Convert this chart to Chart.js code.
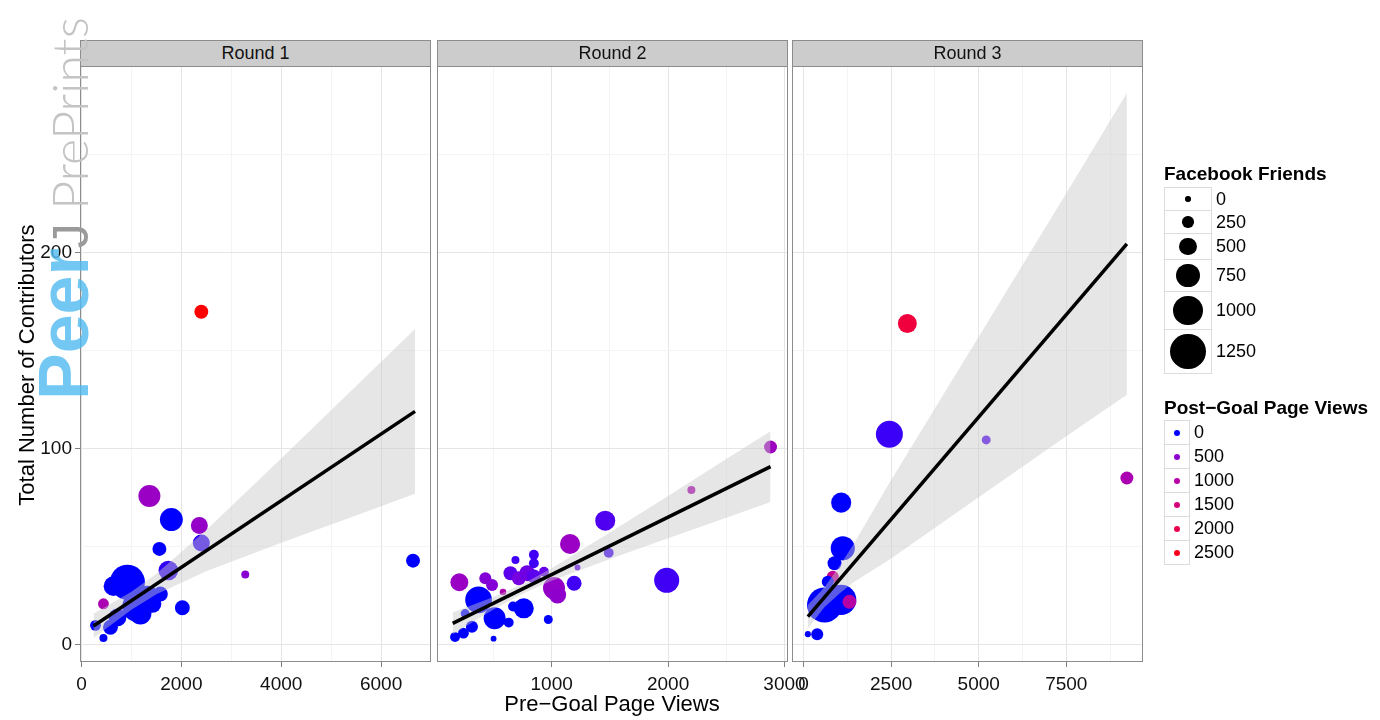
<!DOCTYPE html>
<html>
<head>
<meta charset="utf-8">
<title>Total Number of Contributors vs Pre-Goal Page Views</title>
<script src="https://cdn.jsdelivr.net/npm/chart.js@4.4.1/dist/chart.umd.min.js"></script>
<style>
  body { margin: 0; background: #fff; font-family: "Liberation Sans", Arial, sans-serif; }
  #wrap { position: relative; width: 1380px; height: 720px; overflow: hidden; }
  canvas { position: absolute; left: 0; top: 0; }
  .strip {
    position: absolute; top: 40px; height: 27px; width: 351px; box-sizing: border-box;
    background: #cccccc; border: 1px solid #8c8c8c; text-align: center;
    font-size: 18px; line-height: 25px; color: #111;
  }
  .title-x { position: absolute; left: 412px; width: 400px; top: 691px; text-align: center; font-size: 22px; line-height: 26px; }
  .title-y { position: absolute; left: -173px; width: 400px; top: 352px; height: 26px; text-align: center;
             font-size: 22px; line-height: 26px; transform: rotate(-90deg); }
  .leg-title { position: absolute; left: 1164px; font-weight: bold; font-size: 19px; line-height: 22px; white-space: nowrap; }
  .leg { position: absolute; left: 1164px; }
  .row { display: flex; align-items: center; margin-top: -1px; }
  .key { box-sizing: border-box; border: 1px solid #dcdcdc; display: flex; align-items: center; justify-content: center; }
  .dot { border-radius: 50%; }
  .lab { font-size: 18px; padding-left: 4px; }
  .wm { position: absolute; left: 30px; top: 400px; transform-origin: 0 0; transform: rotate(-90deg);
        white-space: nowrap; font-size: 70px; line-height: 68px; height: 68px; font-weight: bold; }
  .wm .peer { color: rgba(80, 185, 240, 0.8); }
  .wm .j { color: #9a9a9a; font-weight: normal; font-size: 50px; }
  .wm .pp { color: #c4c4c4; font-family: Lato, "Liberation Sans", sans-serif; font-weight: 300; font-size: 50px; }
</style>
</head>
<body>
<div id="wrap">
  <canvas id="p1" width="1380" height="720"></canvas>
  <canvas id="p2" width="1380" height="720"></canvas>
  <canvas id="p3" width="1380" height="720"></canvas>

  <div class="strip" style="left:80px">Round 1</div>
  <div class="strip" style="left:437px">Round 2</div>
  <div class="strip" style="left:792px">Round 3</div>

  <div class="title-x">Pre−Goal Page Views</div>
  <div class="title-y">Total Number of Contributors</div>

  <div class="leg-title" style="top:163px">Facebook Friends</div>
  <div class="leg" id="sizeLegend" style="top:188px"></div>
  <div class="leg-title" style="top:397px">Post−Goal Page Views</div>
  <div class="leg" id="colourLegend" style="top:421px"></div>

  <div class="wm"><span class="peer">Peer</span><span class="j">J</span><span class="pp"> PrePrints</span></div>
</div>
<script>
// Round 1
const r1Pre     = [2400, 1360, 1800, 2360, 2400, 1560, 1740, 3280, 920, 2020, 440, 1120, 1320, 1580, 640, 280, 580, 440, 720, 1180, 1420, 6640];
const r1Contrib = [170, 76, 64, 61, 52, 49, 38, 36, 32, 19, 21, 19.5, 24, 26, 30, 10, 9, 3.5, 14, 16, 21, 43];
const r1Friends = [360, 700, 740, 490, 490, 360, 600, 110, 1250, 400, 230, 1050, 800, 400, 600, 230, 400, 110, 530, 700, 530, 360];
const r1Post    = [2650, 650, 0, 600, 60, 0, 60, 500, 0, 0, 850, 0, 0, 0, 0, 0, 0, 0, 0, 0, 0, 0];
const r1FitX    = [240, 6680];
const r1FitY    = [9.7, 119.2];
const r1BandX   = [240, 1000, 1500, 2500, 4000, 5500, 6680];
const r1BandLo  = [3.5, 18.0, 25.9, 37.6, 52.1, 66.1, 77.2];
const r1BandHi  = [15.9, 27.2, 36.3, 58.6, 95.1, 132.1, 161.2];

// Round 2
const r2Pre     = [2880, 2200, 1460, 1490, 1158, 1988, 1222, 1193, 1020, 1050, 971, 207, 372, 510, 760, 501, 631, 170, 242, 315, 257, 430, 488, 582, 646, 689, 718, 790, 847, 847, 847, 934, 668];
const r2Contrib = [101, 79, 63.4, 47, 51.5, 33, 39.5, 31.5, 29, 25.5, 13, 32, 23, 13.6, 18.7, 3.2, 11.4, 4, 6, 9.3, 16, 34, 30.6, 27, 36.6, 43.4, 34, 36.6, 35, 46, 41.7, 37.4, 19.6];
const r2Friends = [320, 110, 620, 190, 620, 830, 20, 400, 700, 500, 150, 530, 900, 700, 620, 20, 190, 190, 230, 280, 150, 280, 280, 50, 360, 110, 360, 440, 360, 190, 190, 190, 190];
const r2Post    = [700, 850, 150, 100, 650, 100, 200, 100, 600, 550, 0, 650, 0, 0, 0, 0, 0, 0, 0, 0, 0, 450, 450, 900, 200, 100, 350, 300, 200, 100, 100, 250, 0];
const r2FitX    = [150, 2880];
const r2FitY    = [11.0, 91.0];
const r2BandX   = [150, 500, 750, 1000, 1500, 2000, 2500, 2880];
const r2BandLo  = [5.4, 18.1, 26.1, 32.7, 43.8, 54.4, 64.9, 72.9];
const r2BandHi  = [16.6, 24.5, 31.1, 39.1, 57.4, 76.0, 94.9, 109.1];

// Round 3
const r3Pre     = [2963, 2450, 5214, 9230, 1074, 1120, 884, 835, 692, 600, 1074, 1310, 362, 390, 123, 790];
const r3Contrib = [164, 107.5, 104.6, 85.2, 72.6, 49.3, 41.7, 34.8, 32.3, 20.4, 23, 22, 16, 5.5, 5.5, 27];
const r3Friends = [570, 910, 150, 320, 620, 790, 360, 280, 280, 1250, 1050, 360, 280, 280, 30, 360];
const r3Post    = [2200, 80, 150, 850, 0, 0, 0, 1200, 0, 0, 0, 1000, 0, 0, 0, 0];
const r3FitX    = [123, 9230];
const r3FitY    = [14.4, 204.6];
const r3BandX   = [123, 600, 1026, 1405, 2500, 5000, 7500, 9230];
const r3BandLo  = [8.4, 19.4, 26.3, 31.7, 44.1, 75.3, 106.5, 127.6];
const r3BandHi  = [20.4, 29.4, 40.3, 50.7, 84.1, 157.3, 230.5, 281.6];

// Axis ticks
const yMajor   = [0, 100, 200];
const yMinor   = [50, 150, 250];
const r1XMajor = [0, 2000, 4000, 6000];
const r1XMinor = [1000, 3000, 5000];
const r2XMajor = [1000, 2000, 3000];
const r2XMinor = [500, 1500, 2500];
const r3XMajor = [0, 2500, 5000, 7500];
const r3XMinor = [1250, 3750, 6250, 8750];

// Legend breaks
const friendBreaks = [0, 250, 500, 750, 1000, 1250];
const postBreaks   = [0, 500, 1000, 1500, 2000, 2500];

Chart.defaults.font.family = '"Liberation Sans", Arial, sans-serif';

// blue -> red gradient, interpolated in Lab like ggplot
const lowLab = [32.30, 79.19, -107.86];
const highLab = [53.24, 80.09, 67.20];
function labToRgb(L, a, b) {
  const fy = (L + 16) / 116, fx = fy + a / 500, fz = fy - b / 200;
  const finv = t => t > 6 / 29 ? t * t * t : 3 * (6 / 29) * (6 / 29) * (t - 4 / 29);
  const X = 0.95047 * finv(fx), Y = finv(fy), Z = 1.08883 * finv(fz);
  const lin = [
    3.2406 * X - 1.5372 * Y - 0.4986 * Z,
    -0.9689 * X + 1.8758 * Y + 0.0415 * Z,
    0.0557 * X - 0.2040 * Y + 1.0570 * Z
  ];
  const c = lin.map(v => {
    v = Math.min(1, Math.max(0, v));
    v = v <= 0.0031308 ? 12.92 * v : 1.055 * Math.pow(v, 1 / 2.4) - 0.055;
    return Math.round(v * 255);
  });
  return 'rgb(' + c.join(',') + ')';
}
function postColour(v) {
  const t = Math.min(1, Math.max(0, v / 2650));
  return labToRgb(lowLab[0] + t * (highLab[0] - lowLab[0]),
                  lowLab[1] + t * (highLab[1] - lowLab[1]),
                  lowLab[2] + t * (highLab[2] - lowLab[2]));
}
function friendDiameter(f) { return 5.4 + 0.0237 * f; }

const panelBorder = {
  id: 'panelBorder',
  afterDraw(chart) {
    const a = chart.chartArea, ctx = chart.ctx;
    ctx.save();
    ctx.strokeStyle = '#8c8c8c';
    ctx.lineWidth = 1;
    ctx.strokeRect(a.left + 0.5, a.top + 0.5, a.right - a.left - 1, a.bottom - a.top - 1);
    ctx.restore();
  }
};

function tickList(major, minor) {
  return major.concat(minor).sort((p, q) => p - q).map(v => ({ value: v }));
}

function makePanel(id, left, right, xMin, xMax, xMajor, xMinor, showY,
                   pre, contrib, friends, post, fitX, fitY, bandX, bandLo, bandHi) {
  const points = pre.map((x, i) => ({ x: x, y: contrib[i], r: friendDiameter(friends[i]) / 2 }));

  new Chart(document.getElementById(id), {
    type: 'bubble',
    data: {
      datasets: [
        {
          type: 'bubble', data: points, order: 3,
          backgroundColor: post.map(postColour), borderWidth: 0, hoverBorderWidth: 0
        },
        {
          type: 'line', data: bandX.map((x, i) => ({ x: x, y: bandHi[i] })), order: 2,
          borderWidth: 0, borderColor: 'rgba(0,0,0,0)', pointRadius: 0,
          fill: '+1', backgroundColor: 'rgba(200,200,200,0.45)'
        },
        {
          type: 'line', data: bandX.map((x, i) => ({ x: x, y: bandLo[i] })), order: 2,
          borderWidth: 0, borderColor: 'rgba(0,0,0,0)', pointRadius: 0, fill: false
        },
        {
          type: 'line', data: fitX.map((x, i) => ({ x: x, y: fitY[i] })), order: 1,
          borderColor: '#000', borderWidth: 3.5, pointRadius: 0, fill: false
        }
      ]
    },
    options: {
      responsive: false,
      animation: false,
      devicePixelRatio: 1,
      events: [],
      layout: { padding: { left: showY ? 0 : left, right: 1380 - right, top: 66, bottom: 20 } },
      plugins: { legend: { display: false }, tooltip: { enabled: false } },
      scales: {
        x: {
          type: 'linear', min: xMin, max: xMax,
          afterBuildTicks: s => { s.ticks = tickList(xMajor, xMinor); },
          afterFit: s => { s.height = 38; s.paddingLeft = 0; s.paddingRight = 0; },
          border: { display: false },
          grid: {
            color: c => (c.tick && xMajor.includes(c.tick.value)) ? '#e5e5e5' : '#f4f4f4',
            tickColor: c => (c.tick && xMajor.includes(c.tick.value)) ? '#7f7f7f' : 'rgba(0,0,0,0)',
            tickLength: 5, drawTicks: true
          },
          ticks: {
            autoSkip: false, maxRotation: 0, padding: 6, color: '#111', font: { size: 19 },
            callback: v => xMajor.includes(v) ? String(v) : ''
          }
        },
        y: {
          type: 'linear', min: -8.7, max: 295.4,
          afterBuildTicks: s => { s.ticks = tickList(yMajor, yMinor); },
          afterFit: s => { s.width = showY ? 80 : 0; s.paddingTop = 0; s.paddingBottom = 0; },
          border: { display: false },
          grid: {
            color: c => (c.tick && yMajor.includes(c.tick.value)) ? '#e5e5e5' : '#f4f4f4',
            tickColor: c => (c.tick && yMajor.includes(c.tick.value)) ? '#7f7f7f' : 'rgba(0,0,0,0)',
            tickLength: 5, drawTicks: showY
          },
          ticks: {
            display: showY, autoSkip: false, padding: 3, color: '#111', font: { size: 19 },
            callback: v => yMajor.includes(v) ? String(v) : ''
          }
        }
      }
    },
    plugins: [panelBorder]
  });
}

makePanel('p1', 80, 431, -30, 7000, r1XMajor, r1XMinor, true,
          r1Pre, r1Contrib, r1Friends, r1Post, r1FitX, r1FitY, r1BandX, r1BandLo, r1BandHi);
makePanel('p2', 437, 788, 15, 3030, r2XMajor, r2XMinor, false,
          r2Pre, r2Contrib, r2Friends, r2Post, r2FitX, r2FitY, r2BandX, r2BandLo, r2BandHi);
makePanel('p3', 792, 1143, -330, 9690, r3XMajor, r3XMinor, false,
          r3Pre, r3Contrib, r3Friends, r3Post, r3FitX, r3FitY, r3BandX, r3BandLo, r3BandHi);

// Legends
const sizeLegend = document.getElementById('sizeLegend');
friendBreaks.forEach(v => {
  const d = friendDiameter(v);
  const h = Math.max(24, Math.round(d + 10));
  sizeLegend.insertAdjacentHTML('beforeend',
    '<div class="row"><div class="key" style="width:48px;height:' + h + 'px">' +
    '<div class="dot" style="width:' + d + 'px;height:' + d + 'px;background:#000"></div></div>' +
    '<div class="lab">' + v + '</div></div>');
});
const colourLegend = document.getElementById('colourLegend');
postBreaks.forEach(v => {
  colourLegend.insertAdjacentHTML('beforeend',
    '<div class="row"><div class="key" style="width:26px;height:25px">' +
    '<div class="dot" style="width:6px;height:6px;background:' + postColour(v) + '"></div></div>' +
    '<div class="lab">' + v + '</div></div>');
});
</script>
</body>
</html>
